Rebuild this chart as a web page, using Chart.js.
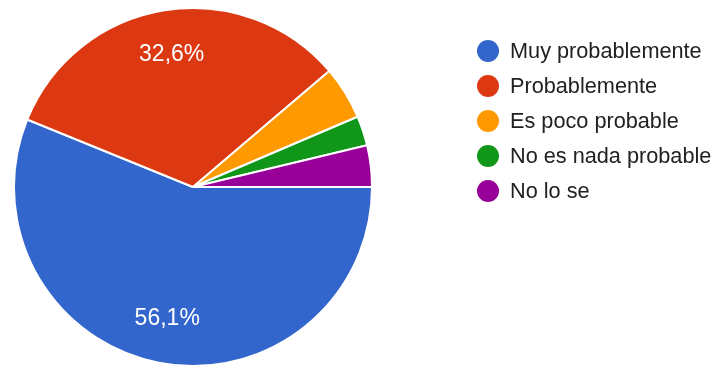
<!DOCTYPE html>
<html>
<head>
<meta charset="utf-8">
<script src="https://cdn.jsdelivr.net/npm/chart.js@4"></script>
<style>
  html, body { margin: 0; padding: 0; background: #fff; overflow: hidden; }
  #wrap { position: relative; width: 716px; height: 365px; }
  #legend { position: absolute; left: 477px; top: 33px; font-family: Arial, "Liberation Sans", sans-serif; font-size: 21.7px; color: #212121; }
  #legend .row { display: flex; align-items: center; height: 35px; }
  #legend .dot { width: 22px; height: 22px; border-radius: 50%; margin-right: 11px; flex: none; }
</style>
</head>
<body>
<div id="wrap">
  <canvas id="pieChart" width="716" height="365"></canvas>
  <div id="legend"></div>
</div>
<script>
// survey answers (counts)
const categories = ['Muy probablemente', 'Probablemente', 'Es poco probable', 'No es nada probable', 'No lo se'];
const answers = [105, 61, 9, 5, 7];
const colors = ['#3366cc', '#dc3912', '#ff9900', '#109618', '#990099'];

const total = answers.reduce((a, b) => a + b, 0);

// percentage text inside the bigger slices
const sliceLabels = {
  id: 'sliceLabels',
  afterDatasetsDraw(chart) {
    const ctx = chart.ctx;
    const meta = chart.getDatasetMeta(0);
    ctx.save();
    ctx.font = '23px Arial, "Liberation Sans", sans-serif';
    ctx.fillStyle = '#ffffff';
    ctx.textAlign = 'center';
    ctx.textBaseline = 'middle';
    meta.data.forEach((arc, i) => {
      const pct = answers[i] / total * 100;
      if (pct < 5) return;
      const p = arc.getProps(['x', 'y', 'startAngle', 'endAngle', 'outerRadius'], true);
      const mid = (p.startAngle + p.endAngle) / 2;
      const r = p.outerRadius * 0.75;
      const text = pct.toFixed(1).replace('.', ',') + '%';
      ctx.fillText(text, p.x + Math.cos(mid) * r, p.y + Math.sin(mid) * r);
    });
    ctx.restore();
  }
};

const pieCtx = document.getElementById('pieChart').getContext('2d');
new Chart(pieCtx, {
  type: 'pie',
  data: {
    labels: categories,
    datasets: [{
      data: answers,
      backgroundColor: colors,
      borderColor: '#ffffff',
      borderWidth: 2,
      radius: 179
    }]
  },
  options: {
    responsive: false,
    animation: false,
    rotation: 90,
    layout: {
      padding: { left: 14, right: 344, top: 9, bottom: 0 }
    },
    plugins: {
      legend: { display: false },
      tooltip: { enabled: false }
    }
  },
  plugins: [sliceLabels]
});

// legend on the right
const legendEl = document.getElementById('legend');
categories.forEach((name, i) => {
  const row = document.createElement('div');
  row.className = 'row';
  const dot = document.createElement('span');
  dot.className = 'dot';
  dot.style.background = colors[i];
  const label = document.createElement('span');
  label.textContent = name;
  row.appendChild(dot);
  row.appendChild(label);
  legendEl.appendChild(row);
});
</script>
</body>
</html>
